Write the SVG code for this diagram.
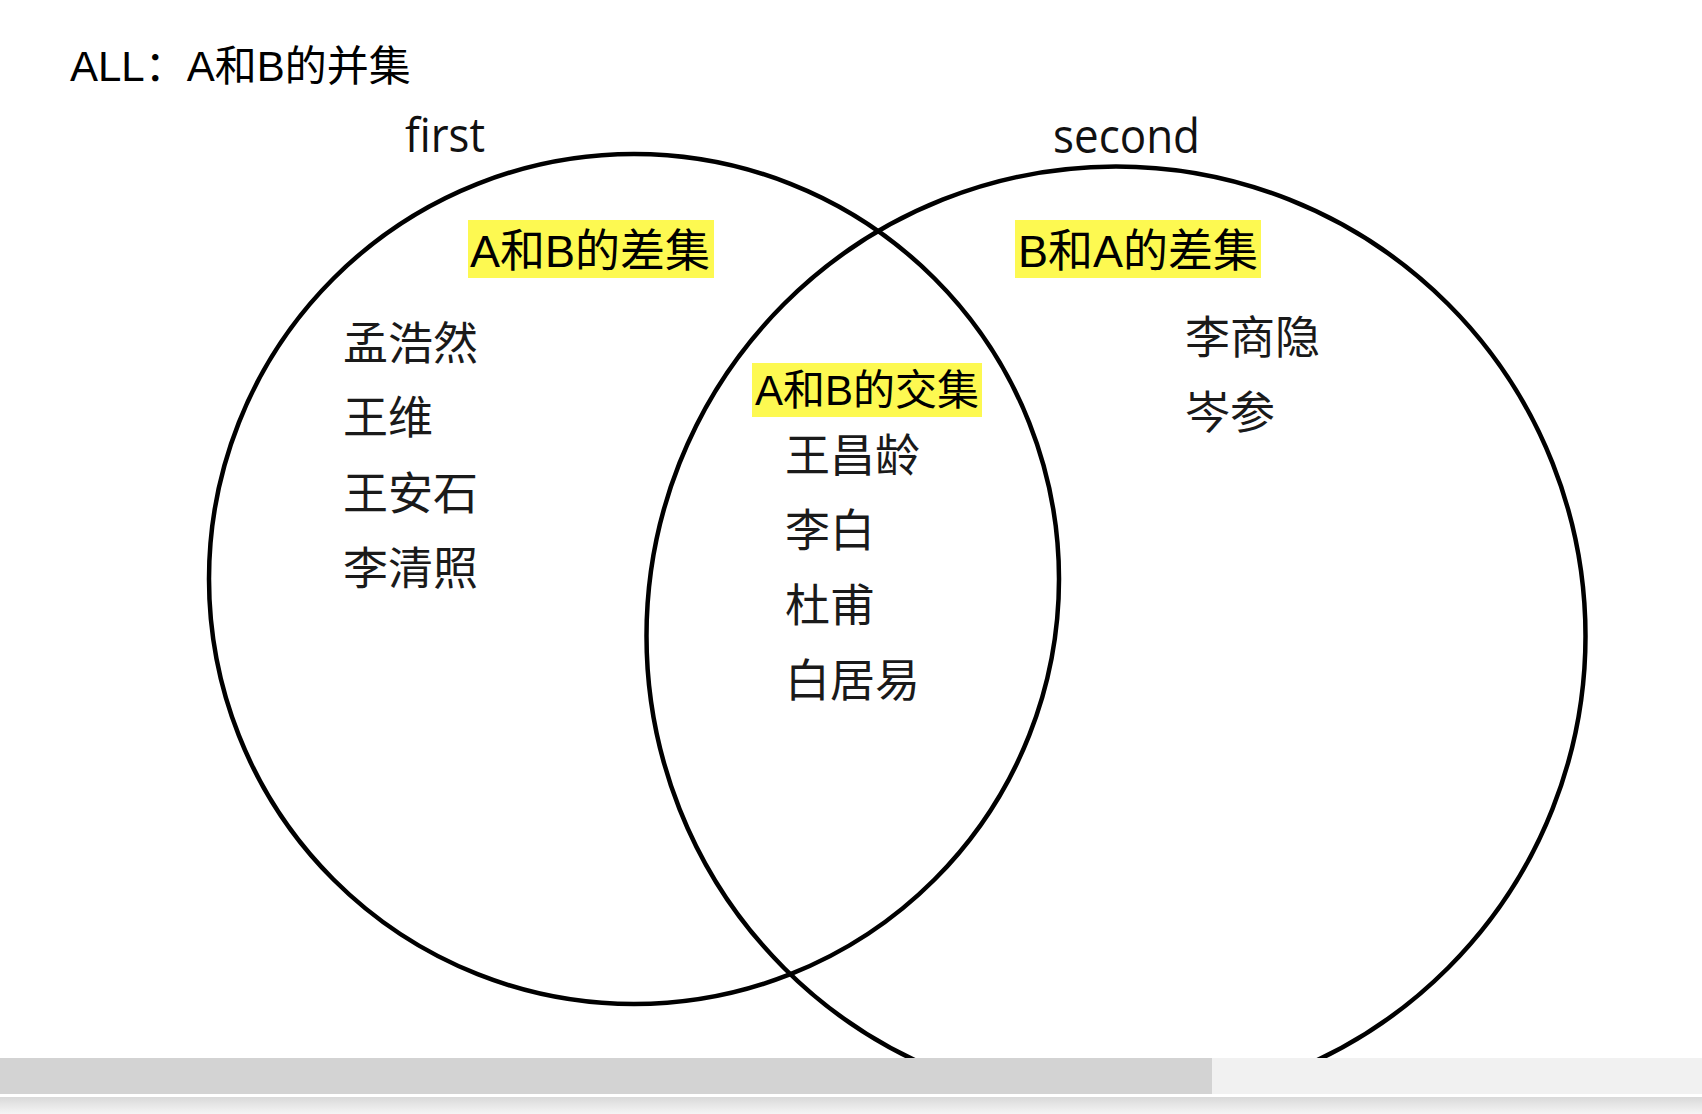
<svg xmlns="http://www.w3.org/2000/svg" width="1702" height="1114" viewBox="0 0 1702 1114">
<defs>
<linearGradient id="shade" x1="0" y1="0" x2="0" y2="1">
<stop offset="0" stop-color="#d9d9d9"/>
<stop offset="1" stop-color="#f5f5f5"/>
</linearGradient>
</defs>
<style>
.set{fill:none;stroke:#000;stroke-width:4.5}
.cjk{font-family:"Liberation Sans","Noto Sans CJK SC",sans-serif;fill:#000}
.name{font-family:"Noto Sans CJK SC",sans-serif;font-size:45px;fill:#1a1a1a}
.lat{font-family:"Open Sans","Noto Sans",sans-serif;font-size:47px;fill:#111}
.hl{fill:#fdf951}
</style>
<rect width="1702" height="1114" fill="#fff"/>
<text class="cjk" x="70" y="81" font-size="42">ALL：A和B的并集</text>
<g id="first">
<circle class="set" cx="634" cy="579" r="425"/>
<text class="lat" x="405" y="152" textLength="80" lengthAdjust="spacingAndGlyphs">first</text>
</g>
<g id="second">
<circle class="set" cx="1116" cy="636" r="469.5"/>
<text class="lat" x="1053" y="153" textLength="147" lengthAdjust="spacingAndGlyphs">second</text>
</g>
<g id="diffAB">
<rect class="hl" x="468" y="220" width="246" height="58"/>
<text class="cjk" x="470" y="267" font-size="45">A和B的差集</text>
<text class="name" x="343" y="360">孟浩然</text>
<text class="name" x="343" y="434">王维</text>
<text class="name" x="343" y="510">王安石</text>
<text class="name" x="343" y="585">李清照</text>
</g>
<g id="intersection">
<rect class="hl" x="752" y="363" width="230" height="54"/>
<text class="cjk" x="755" y="405" font-size="42">A和B的交集</text>
<text class="name" x="785" y="472">王昌龄</text>
<text class="name" x="785" y="547">李白</text>
<text class="name" x="785" y="622">杜甫</text>
<text class="name" x="785" y="697">白居易</text>
</g>
<g id="diffBA">
<rect class="hl" x="1015" y="220" width="246" height="58"/>
<text class="cjk" x="1018" y="267" font-size="45">B和A的差集</text>
<text class="name" x="1185" y="354">李商隐</text>
<text class="name" x="1185" y="429">岑参</text>
</g>
<g id="connectors"></g>
<rect x="0" y="1058" width="1702" height="36" fill="#f1f1f1"/>
<rect x="0" y="1058" width="1212" height="36" fill="#d3d3d3"/>
<rect x="0" y="1094" width="1702" height="3" fill="#fff"/>
<rect x="0" y="1097" width="1702" height="17" fill="url(#shade)"/>
</svg>
